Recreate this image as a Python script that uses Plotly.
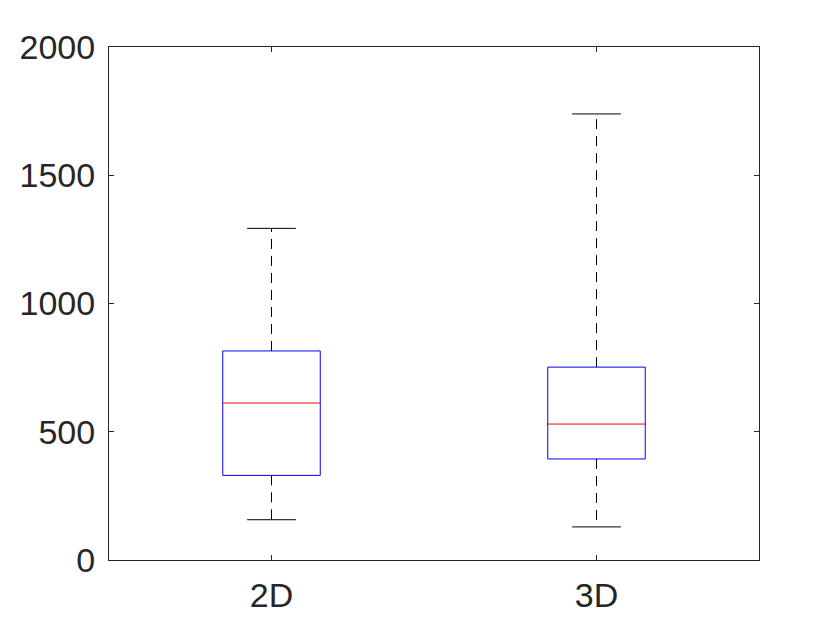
import plotly.graph_objects as go

# box statistics
groups = ['2D', '3D']
positions = [1, 2]
lower_whisker = [157, 129]
q1 = [330, 394]
median = [612, 530]
q3 = [815, 752]
upper_whisker = [1293, 1739]

y_ticks = [0, 500, 1000, 1500, 2000]

_INK = '#262626'
_BOX_W = 0.15   # half width of the box
_CAP_W = 0.075  # half width of whisker caps

fig = go.Figure()

for i, x in enumerate(positions):
    # whiskers (dashed)
    fig.add_trace(go.Scatter(
        x=[x, x, None, x, x],
        y=[q3[i], upper_whisker[i], None, q1[i], lower_whisker[i]],
        mode='lines', line=dict(color='black', width=1, dash='10px,7px'),
        hoverinfo='skip', showlegend=False,
    ))
    # caps
    fig.add_trace(go.Scatter(
        x=[x - _CAP_W, x + _CAP_W, None, x - _CAP_W, x + _CAP_W],
        y=[upper_whisker[i], upper_whisker[i], None, lower_whisker[i], lower_whisker[i]],
        mode='lines', line=dict(color='black', width=1),
        hoverinfo='skip', showlegend=False,
    ))
    # box
    fig.add_trace(go.Scatter(
        x=[x - _BOX_W, x + _BOX_W, x + _BOX_W, x - _BOX_W, x - _BOX_W],
        y=[q1[i], q1[i], q3[i], q3[i], q1[i]],
        mode='lines', line=dict(color='blue', width=1),
        hoverinfo='skip', showlegend=False,
    ))
    # median
    fig.add_trace(go.Scatter(
        x=[x - _BOX_W, x + _BOX_W],
        y=[median[i], median[i]],
        mode='lines', line=dict(color='red', width=1),
        hoverinfo='skip', showlegend=False,
    ))

_axis = dict(
    showline=True, linecolor=_INK, linewidth=1, mirror='ticks',
    ticks='inside', ticklen=5, tickcolor=_INK, tickwidth=1,
    showgrid=False, zeroline=False,
    tickfont=dict(family='Liberation Sans, Arial', size=34, color=_INK),
)

# page body adds an 8px offset, so margins are shifted accordingly
fig.update_layout(
    width=840, height=630,
    margin=dict(l=101, r=89, t=39, b=78),
    paper_bgcolor='white', plot_bgcolor='white',
    xaxis=dict(range=[0.5, 2.5], tickvals=positions, ticktext=groups,
               ticklabelstandoff=5, **_axis),
    yaxis=dict(range=[0, 2000], tickvals=y_ticks, ticklabelstandoff=6, **_axis),
)

fig.write_html('out.html')
